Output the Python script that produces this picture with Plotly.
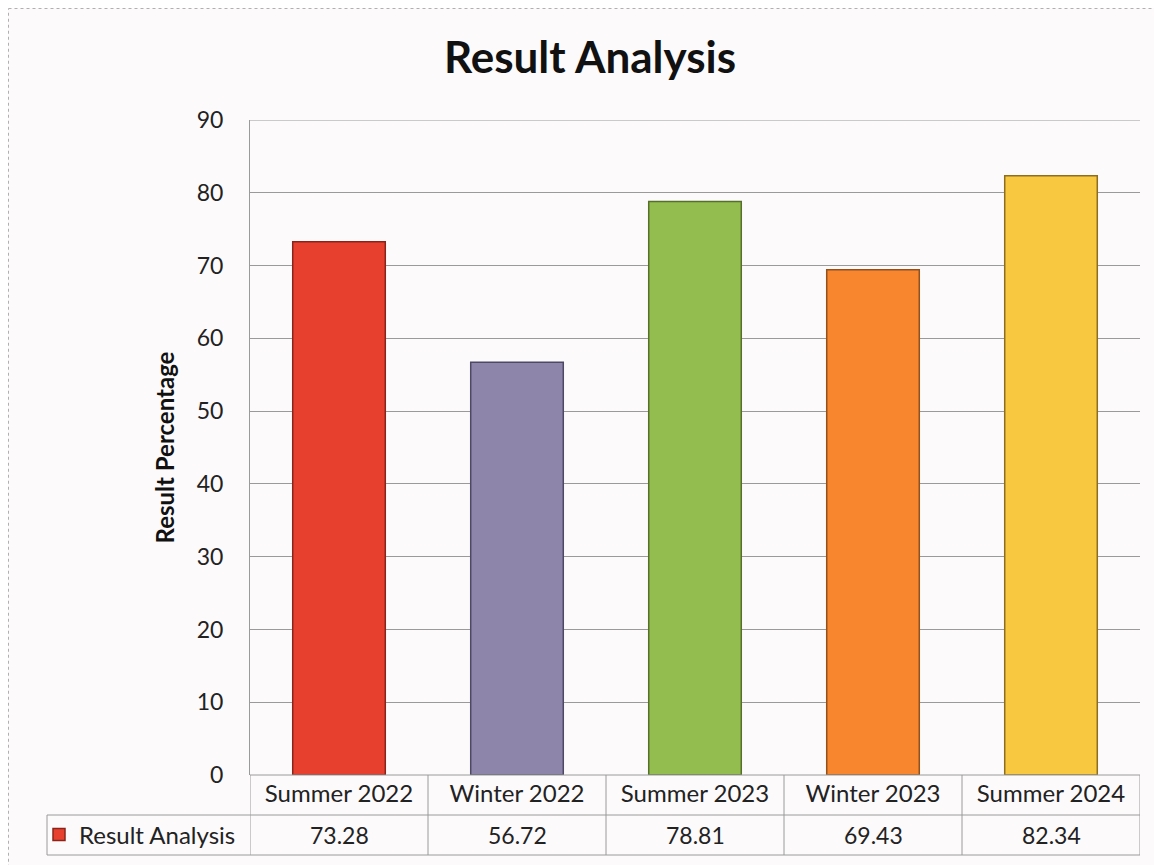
import plotly.graph_objects as go

categories = ["Summer 2022", "Winter 2022", "Summer 2023", "Winter 2023", "Summer 2024"]
values = [73.28, 56.72, 78.81, 69.43, 82.34]
value_labels = ["73.28", "56.72", "78.81", "69.43", "82.34"]
bar_colors = ["#e8402f", "#8e85ab", "#93bd4e", "#f7862f", "#f8c840"]
edge_colors = ["#8a2418", "#4e4866", "#566f2a", "#94501a", "#8e6e1c"]
y_ticks = [0, 10, 20, 30, 40, 50, 60, 70, 80, 90]
series_name = "Result Analysis"

FONT = "Lato"
W, H = 1154, 857
L, R, T, B = 242, 22, 112, 90
pw = W - L - R
ph = H - T - B
row = 40 / ph  # table row height in paper units
left_cell = (39 - L) / pw

fig = go.Figure()
fig.add_trace(go.Bar(
    x=categories, y=values, name=series_name,
    marker=dict(color=bar_colors, line=dict(color=edge_colors, width=1.5)),
    width=0.52, showlegend=True,
))

shapes = []
grey = "#9a9a9a"
# top gridline at 90
shapes.append(dict(type="line", xref="paper", yref="y", x0=0, x1=1, y0=90, y1=90, line=dict(color=grey, width=1), layer="below"))
# table lines
shapes.append(dict(type="line", xref="paper", yref="paper", x0=left_cell, x1=1, y0=-row, y1=-row, line=dict(color=grey, width=1)))
shapes.append(dict(type="line", xref="paper", yref="paper", x0=0, x1=1, y0=0, y1=0, line=dict(color=grey, width=1)))
shapes.append(dict(type="line", xref="paper", yref="paper", x0=left_cell, x1=1, y0=-2 * row, y1=-2 * row, line=dict(color=grey, width=1)))
shapes.append(dict(type="line", xref="paper", yref="paper", x0=left_cell, x1=left_cell, y0=-row, y1=-2 * row, line=dict(color=grey, width=1)))
for i in range(len(categories) + 1):
    shapes.append(dict(type="line", xref="x", yref="paper", x0=i - 0.5, x1=i - 0.5, y0=0, y1=-2 * row,
                       line=dict(color=grey, width=1)))
# outer chart border (left and top visible)
bx = (0.5 - L) / pw
by = (H - B - 0.5) / ph
shapes.append(dict(type="line", xref="paper", yref="paper", x0=bx, x1=bx, y0=-B / ph - 0.05, y1=by,
                   line=dict(color="#b0b0b0", width=1, dash="dot")))
shapes.append(dict(type="line", xref="paper", yref="paper", x0=bx, x1=1 + R / pw + 0.05, y0=by, y1=by,
                   line=dict(color="#b0b0b0", width=1, dash="dot")))

annotations = []
for c, v in zip(categories, value_labels):
    annotations.append(dict(x=c, xref="x", y=-1.5 * row, yref="paper", text=v, showarrow=False,
                            font=dict(family=FONT, size=23, color="#222"), xanchor="center", yanchor="middle"))

fig.update_layout(
    width=W, height=H,
    margin=dict(l=L, r=R, t=T, b=B, autoexpand=False),
    paper_bgcolor="#fdfafc", plot_bgcolor="#fdfafc",
    title=dict(text="<b>Result Analysis</b>", x=582 / W, xanchor="center", y=1 - 50 / H, yanchor="middle",
               font=dict(family=FONT, size=44, color="#111")),
    font=dict(family=FONT, size=23, color="#222"),
    xaxis=dict(type="category", showgrid=False, showline=False, ticks="", zeroline=False,
               tickfont=dict(family=FONT, size=24, color="#222"), ticklabelstandoff=2, range=[-0.5, 4.5]),
    yaxis=dict(range=[0, 90], tickvals=y_ticks, showgrid=True, gridcolor=grey, gridwidth=1,
               showline=True, linecolor=grey, linewidth=1, zeroline=False, ticks="",
               tickfont=dict(family=FONT, size=23, color="#222"), ticklabelstandoff=21,
               title=dict(text="<b>Result Percentage</b>", font=dict(family=FONT, size=24, color="#111"))),
    legend=dict(x=left_cell, xanchor="left", y=-1.5 * row, yanchor="middle", bgcolor="rgba(0,0,0,0)",
                font=dict(family=FONT, size=24, color="#222"), itemwidth=30, tracegroupgap=0,
                indentation=-8),
    shapes=shapes, annotations=annotations,
    bargap=0.48,
)

fig.write_html("out.html")
